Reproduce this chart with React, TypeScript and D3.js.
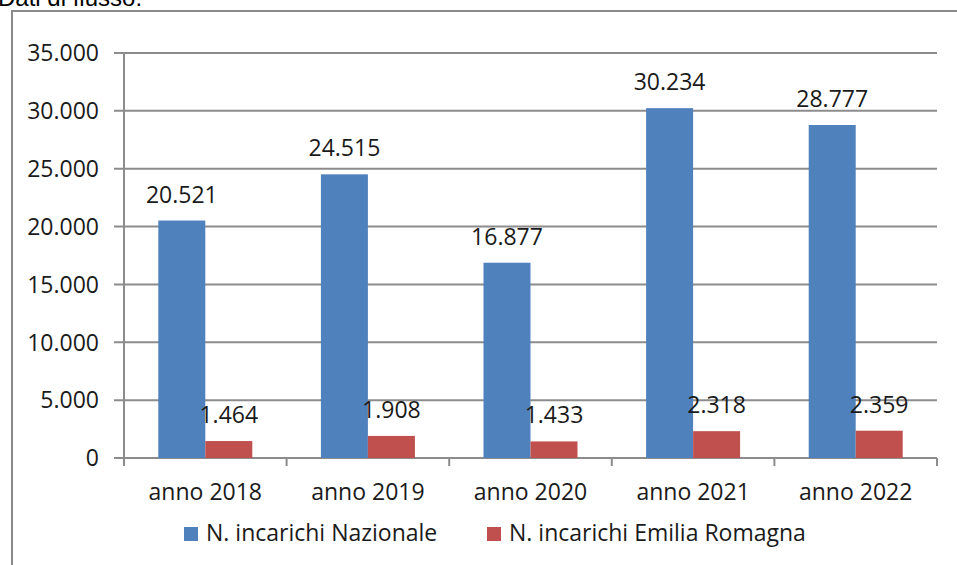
import React from 'react';
import * as d3 from 'd3';

const categories = ['anno 2018', 'anno 2019', 'anno 2020', 'anno 2021', 'anno 2022'];
const nazionale = [20521, 24515, 16877, 30234, 28777];
const emiliaRomagna = [1464, 1908, 1433, 2318, 2359];
const yTicks = [0, 5000, 10000, 15000, 20000, 25000, 30000, 35000];
const seriesNames = ['N. incarichi Nazionale', 'N. incarichi Emilia Romagna'];
const colors = ['#4F81BD', '#C0504D'];

const W = 957;
const H = 565;
const left = 124;
const right = 937;
const top = 53;
const bottom = 458;
const font = "'Open Sans', sans-serif";
const fs = 23;
const fmt = (v: number) => d3.format(',')(v).replace(/,/g, '.');

export default function App() {
  const x = d3.scaleBand().domain(categories).range([left, right]).paddingInner(0).paddingOuter(0);
  const y = d3.scaleLinear().domain([0, 35000]).range([bottom, top]);
  const inner = d3.scaleBand().domain(['0', '1']).range([0, x.bandwidth()]).paddingOuter(0.73).paddingInner(0);
  const series = [nazionale, emiliaRomagna];

  return (
    <svg width={W} height={H} style={{ position: 'absolute', left: 0, top: 0, background: '#fff' }}>
      <text x={-2} y={6} fontFamily="'Liberation Sans', Arial, sans-serif" fontSize={24} fill="#000">Dati di flusso:</text>
      <path d={`M12,${H + 5}V11H${W + 5}`} fill="none" stroke="#8a8a8a" strokeWidth={2} />

      {/* grid + y ticks */}
      {yTicks.map(t => (
        <g key={t}>
          <line x1={left - 10} x2={right} y1={y(t)} y2={y(t)} stroke="#8c8c8c" strokeWidth={2} />
          <text x={99} y={y(t)} dy="0.36em" textAnchor="end" fontFamily={font} fontSize={fs} fill="#1a1a1a">{fmt(t)}</text>
        </g>
      ))}
      <line x1={left} x2={left} y1={top} y2={bottom + 8} stroke="#8c8c8c" strokeWidth={2} />
      {categories.map(c => (
        <line key={c} x1={(x(c) as number) + x.bandwidth()} x2={(x(c) as number) + x.bandwidth()} y1={bottom} y2={bottom + 8} stroke="#8c8c8c" strokeWidth={2} />
      ))}

      {/* bars */}
      {series.map((s, si) => (
        <g key={si}>
          {s.map((v, i) => {
            const bx = (x(categories[i]) as number) + (inner(String(si)) as number);
            return (
              <g key={i}>
                <rect x={bx} y={y(v)} width={inner.bandwidth()} height={bottom - y(v)} fill={colors[si]} />
                <text x={bx + inner.bandwidth() / 2} y={y(v) - 18} textAnchor="middle" fontFamily={font} fontSize={fs} fill="#1a1a1a">{fmt(v)}</text>
              </g>
            );
          })}
        </g>
      ))}

      {/* x labels */}
      {categories.map(c => (
        <text key={c} x={(x(c) as number) + x.bandwidth() / 2} y={500} textAnchor="middle" fontFamily={font} fontSize={fs} fill="#1a1a1a">{c}</text>
      ))}

      {/* legend */}
      {[184, 487].map((lx, i) => (
        <g key={i}>
          <rect x={lx} y={527} width={14} height={14} fill={colors[i]} />
          <text x={lx + 22} y={541} fontFamily={font} fontSize={fs} fill="#1a1a1a">{seriesNames[i]}</text>
        </g>
      ))}
    </svg>
  );
}
